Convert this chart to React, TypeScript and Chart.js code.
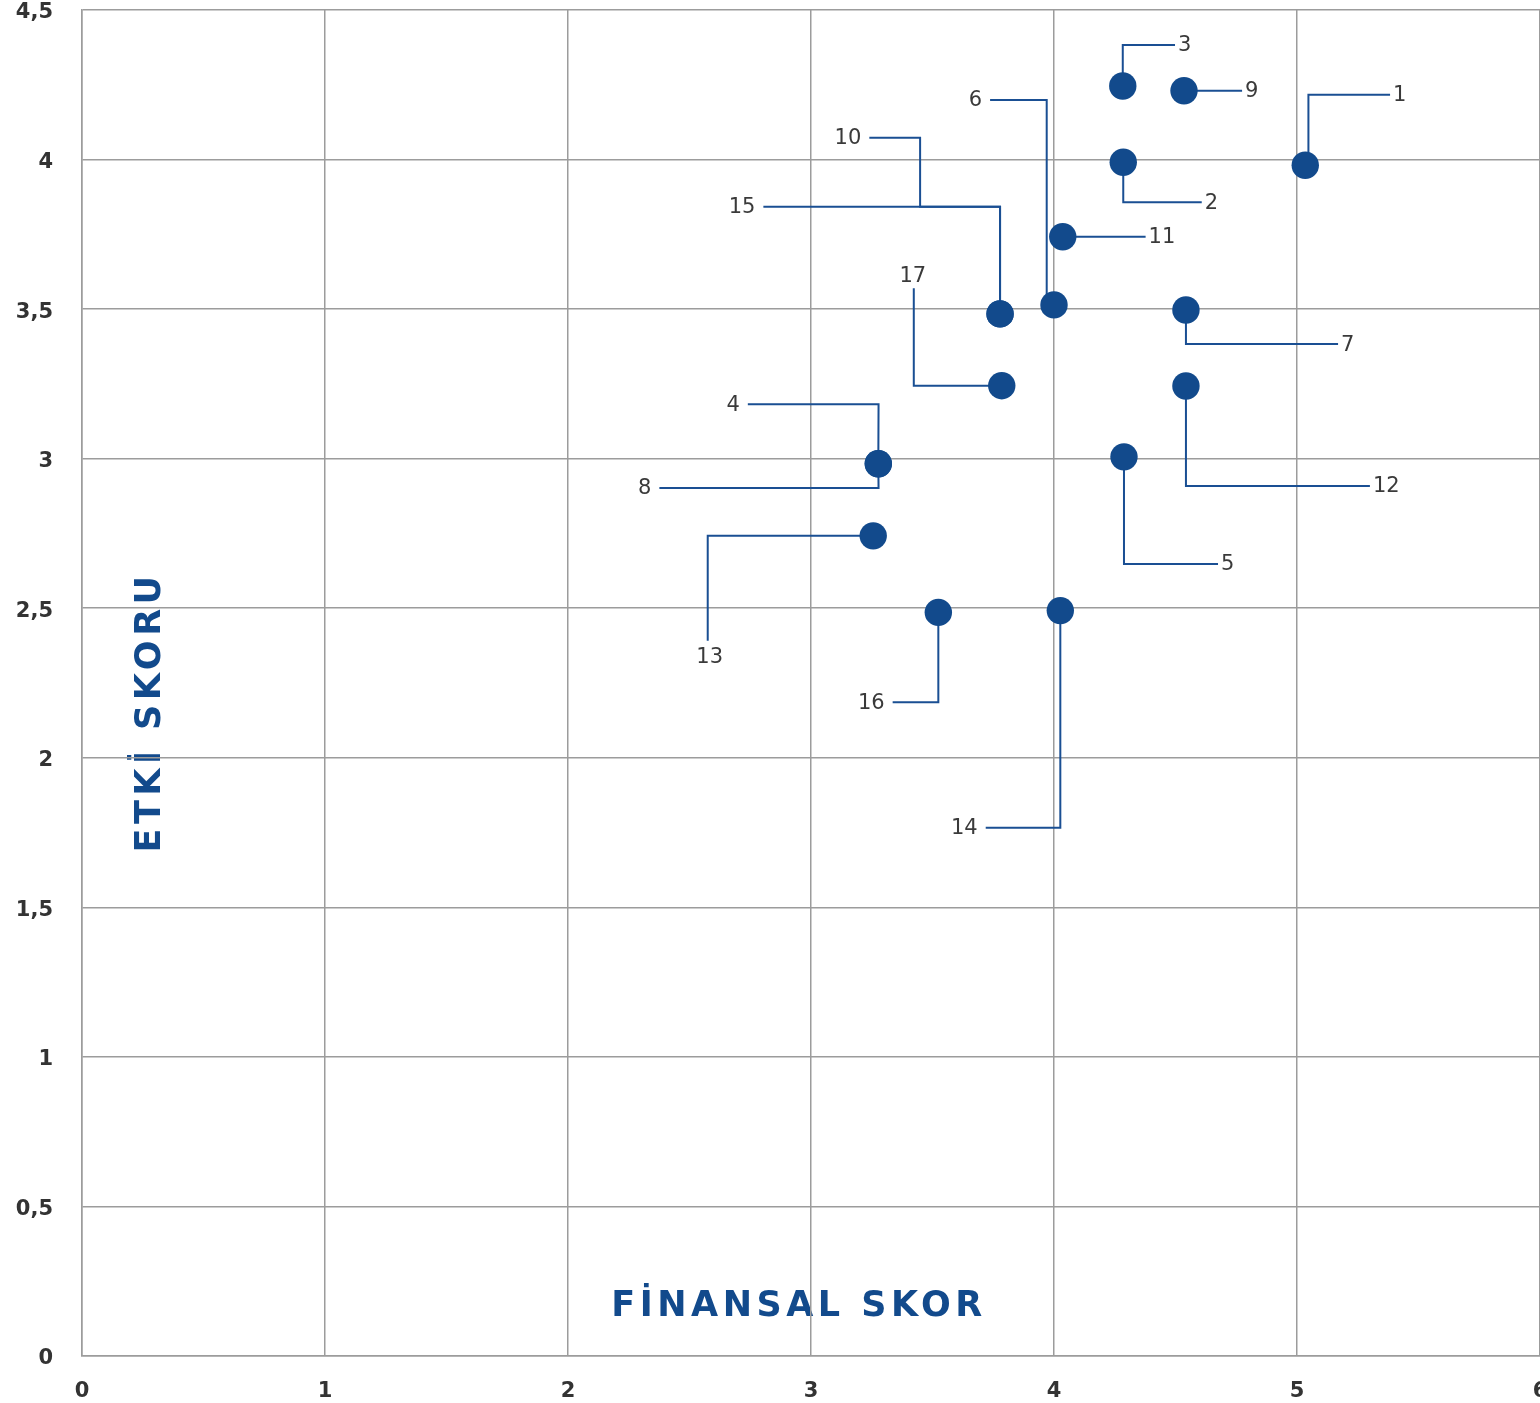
import React, { useEffect, useRef } from 'react';
import { Chart, registerables } from 'chart.js';

Chart.register(...registerables);

// ---- data ----
const pointLabels = ['1', '2', '3', '4', '5', '6', '7', '8', '9', '10', '11', '12', '13', '14', '15', '16', '17'];
const finansalSkor = [5.034, 4.285, 4.283, 3.277, 4.288, 4.0, 4.543, 3.277, 4.535, 3.778, 4.036, 4.543, 3.256, 4.026, 3.778, 3.524, 3.785];
const etkiSkoru = [3.981, 3.991, 4.246, 2.983, 3.006, 3.514, 3.497, 2.983, 4.23, 3.484, 3.742, 3.243, 2.742, 2.492, 3.484, 2.486, 3.244];

const xTickValues = [0, 1, 2, 3, 4, 5, 6];
const yTickValues = [0, 0.5, 1, 1.5, 2, 2.5, 3, 3.5, 4, 4.5];

const xAxisTitle = 'FİNANSAL SKOR';
const yAxisTitle = 'ETKİ SKORU';

// leader line waypoints (data units) after each point, and side where the label sits
const leaderPaths: number[][][] = [
  [[5.047, 3.981], [5.047, 4.217], [5.383, 4.217]],
  [[4.285, 3.857], [4.608, 3.857]],
  [[4.283, 4.383], [4.498, 4.383]],
  [[3.278, 3.182], [2.74, 3.182]],
  [[4.288, 2.648], [4.675, 2.648]],
  [[3.97, 3.514], [3.97, 4.199], [3.737, 4.199]],
  [[4.543, 3.383], [5.169, 3.383]],
  [[3.278, 2.902], [2.376, 2.902]],
  [[4.774, 4.23]],
  [[3.778, 3.842], [3.449, 3.842], [3.449, 4.073], [3.24, 4.073]],
  [[4.377, 3.742]],
  [[4.543, 2.909], [5.3, 2.909]],
  [[2.575, 2.742], [2.575, 2.391]],
  [[4.026, 1.766], [3.719, 1.766]],
  [[3.778, 3.842], [2.804, 3.842]],
  [[3.524, 2.186], [3.336, 2.186]],
  [[3.423, 3.244], [3.423, 3.57]],
];
const labelSides = ['right', 'right', 'right', 'left', 'right', 'left', 'right', 'left', 'right', 'left', 'right', 'right', 'bottom', 'left', 'left', 'left', 'top'];

// ---- styles ----
const BLUE = '#124a8c';
const LINE_BLUE = '#1a4f93';
const GRID = '#9c9c9c';
const FONT = '"DejaVu Sans", "Noto Sans", sans-serif';

const fmt = (v: number) => String(v).replace('.', ',');

const leaderPlugin = {
  id: 'leaders',
  beforeDatasetsDraw(chart: any) {
    const { ctx } = chart;
    const xs = chart.scales.x;
    const ys = chart.scales.y;
    ctx.save();
    ctx.strokeStyle = LINE_BLUE;
    ctx.lineWidth = 2;
    ctx.lineJoin = 'miter';
    for (let i = 0; i < finansalSkor.length; i++) {
      const pts = [[finansalSkor[i], etkiSkoru[i]], ...leaderPaths[i]].map((p) => [
        xs.getPixelForValue(p[0]),
        ys.getPixelForValue(p[1]),
      ]);
      ctx.beginPath();
      ctx.moveTo(pts[0][0], pts[0][1]);
      for (let k = 1; k < pts.length; k++) ctx.lineTo(pts[k][0], pts[k][1]);
      ctx.stroke();
    }
    ctx.fillStyle = '#3a3a3a';
    ctx.font = `21px ${FONT}`;
    for (let i = 0; i < finansalSkor.length; i++) {
      const end = leaderPaths[i][leaderPaths[i].length - 1];
      const ex = xs.getPixelForValue(end[0]);
      const ey = ys.getPixelForValue(end[1]);
      const side = labelSides[i];
      if (side === 'right') {
        ctx.textAlign = 'left';
        ctx.textBaseline = 'middle';
        ctx.fillText(pointLabels[i], ex + 3, ey + 1);
      } else if (side === 'left') {
        ctx.textAlign = 'right';
        ctx.textBaseline = 'middle';
        ctx.fillText(pointLabels[i], ex - 8, ey + 1);
      } else if (side === 'top') {
        ctx.textAlign = 'center';
        ctx.textBaseline = 'alphabetic';
        ctx.fillText(pointLabels[i], ex - 1, ey - 6);
      } else {
        ctx.textAlign = 'center';
        ctx.textBaseline = 'alphabetic';
        ctx.fillText(pointLabels[i], ex + 2, ey + 22);
      }
    }
    ctx.restore();
  },
};

const titlePlugin = {
  id: 'axisTitles',
  beforeDraw(chart: any) {
    const { ctx, chartArea } = chart;
    ctx.save();
    ctx.fillStyle = BLUE;
    ctx.font = `bold 35px ${FONT}`;
    (ctx as any).letterSpacing = '4.5px';
    ctx.textAlign = 'center';
    ctx.textBaseline = 'alphabetic';
    ctx.fillText(xAxisTitle, chartArea.left + 717, chartArea.bottom - 40.5);
    ctx.translate(chartArea.left + 77.5, chartArea.top + 702);
    ctx.rotate(-Math.PI / 2);
    ctx.fillText(yAxisTitle, 0, 0);
    ctx.restore();
  },
};

export default function App() {
  const ref = useRef<HTMLCanvasElement>(null);
  useEffect(() => {
    document.body.style.margin = '0';
    const chart = new Chart(ref.current as HTMLCanvasElement, {
      type: 'scatter',
      data: {
        datasets: [
          {
            label: 'Skor',
            data: finansalSkor.map((x, i) => ({ x, y: etkiSkoru[i] })),
            backgroundColor: BLUE,
            borderWidth: 0,
            pointRadius: 13.7,
            pointHoverRadius: 13.7,
          },
        ],
      },
      options: {
        responsive: false,
        maintainAspectRatio: false,
        animation: false,
        layout: { autoPadding: false, padding: { top: 10, left: 0, right: 60, bottom: 0 } },
        plugins: {
          legend: { display: false },
          tooltip: { enabled: false },
        },
        scales: {
          x: {
            type: 'linear',
            position: 'bottom',
            min: 0,
            max: 6,
            grid: { color: GRID, lineWidth: 1.5, drawTicks: false },
            border: { color: GRID, width: 1.5 },
            ticks: {
              padding: 23,
              color: '#333',
              font: { family: FONT, size: 21, weight: 'bold', lineHeight: 1.2 },
              callback: (v: any) => fmt(Number(v)),
            },
            afterBuildTicks: (s: any) => {
              s.ticks = xTickValues.map((value) => ({ value }));
            },
            afterFit: (s: any) => {
              s.height = 47;
              s.paddingLeft = 0;
              s.paddingRight = 0;
            },
          },
          y: {
            type: 'linear',
            min: 0,
            max: 4.5,
            grid: { color: GRID, lineWidth: 1.5, drawTicks: false },
            border: { color: GRID, width: 1.5 },
            ticks: {
              padding: 29,
              labelOffset: 3,
              color: '#333',
              font: { family: FONT, size: 21, weight: 'bold', lineHeight: 0.8 },
              callback: (v: any) => fmt(Number(v)),
            },
            afterBuildTicks: (s: any) => {
              s.ticks = yTickValues.map((value) => ({ value }));
            },
            afterFit: (s: any) => {
              s.width = 82;
              s.paddingTop = 0;
              s.paddingBottom = 0;
            },
          },
        },
      } as any,
      plugins: [titlePlugin, leaderPlugin],
    });
    return () => chart.destroy();
  }, []);
  return (
    <div style={{ width: 1540, height: 1403, overflow: 'hidden', position: 'relative' }}>
      <canvas ref={ref} width={1600} height={1403} style={{ display: 'block', width: 1600, height: 1403 }} />
    </div>
  );
}
